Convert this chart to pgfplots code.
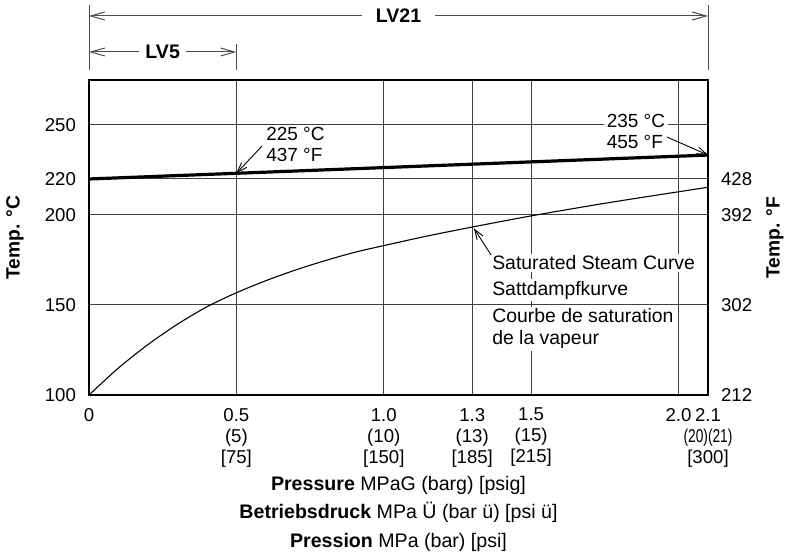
\documentclass[border=0pt]{standalone}
\usepackage{pgfplots}
\pgfplotsset{compat=1.18}
\usepackage{graphicx}
\usepackage{fontspec}
\setmainfont{Liberation Sans}
\usetikzlibrary{arrows.meta}

\begin{document}
\begin{tikzpicture}[font=\fontsize{9.3}{10.5}\selectfont]
\begin{axis}[
  scale only axis, width=309.5pt, height=157.5pt,
  xmin=0, xmax=2.1, ymin=100, ymax=275,
  xtick={0,0.5,1,1.3,1.5,2,2.1},
  xticklabels={0,{0.5\\(5)\\{[75]}},{1.0\\(10)\\{[150]}},{1.3\\(13)\\{[185]}},{1.5\\(15)\\{[215]}},{2.0},{2.1\\\scalebox{0.74}[1]{(20)(21)}\\{[300]}}},
  xticklabel style={align=center, anchor=north, yshift=-3pt, font=\fontsize{9.3}{10.5}\selectfont},
  ytick={100,150,200,220,250},
  yticklabels={100,150,200,220,250},
  yticklabel style={xshift=-3pt},
  major tick length=0pt,
  grid=major,
  major grid style={black!75, line width=0.5pt},
  axis line style={black, line width=0.7pt},
  /pgf/number format/assume math mode=true,
  clip=false,
]
\addplot[black, line width=1.6pt] coordinates {(0,220) (2.1,233.3)};
\addplot[black, line width=0.55pt, smooth, tension=0.5] coordinates {
  (0,100) (0.1,115) (0.2,128) (0.3,139.3) (0.4,149) (0.5,156.8) (0.6,163.5)
  (0.7,169.4) (0.8,174.6) (0.9,179.2) (1.0,183) (1.15,188.4) (1.3,193.3)
  (1.5,199.5) (1.75,206.5) (2.0,212.9) (2.1,215.4)};

\coordinate (BL) at (rel axis cs:0,0);
\coordinate (TL) at (rel axis cs:0,1);
\coordinate (TR) at (rel axis cs:1,1);
\coordinate (T5) at (axis cs:0.5,275);

% annotations
\node[anchor=west, align=left, inner sep=0pt, font=\fontsize{9.5}{10.5}\selectfont] at (axis cs:0.600,239) {225 °C\\437 °F};
\draw[black, line width=0.45pt, -{Straight Barb[length=5pt,width=3.5pt]}] (axis cs:0.587,238.3) -- (axis cs:0.5,223.2);

\node[anchor=west, align=left, fill=white, inner sep=1.5pt, font=\fontsize{9.5}{10.5}\selectfont] at (axis cs:1.745,246.2) {235 °C\\455 °F};
\draw[black, line width=0.45pt, -{Straight Barb[length=5pt,width=3.5pt]}] (axis cs:1.961,243.3) -- (axis cs:2.1,233.3);

\begin{scope}[every node/.style={anchor=west, fill=white, inner sep=1pt, font=\fontsize{9.7}{11}\selectfont}]
\node at (axis cs:1.360,173.3) {Saturated Steam Curve};
\node at (axis cs:1.360,158.3) {Sattdampfkurve};
\node[align=left] at (axis cs:1.360,136.7) {Courbe de saturation\\de la vapeur};
\end{scope}
\draw[black, line width=0.45pt, -{Straight Barb[length=5pt,width=3.5pt]}] (axis cs:1.364,177.8) -- (axis cs:1.306,192.6);

% axis titles
\node[rotate=90, font=\fontsize{9.6}{10.5}\selectfont\bfseries] at ([xshift=-37pt]rel axis cs:0,0.5) {Temp. °C};
\node[rotate=90, font=\fontsize{9.6}{10.5}\selectfont\bfseries] at ([xshift=33.5pt]rel axis cs:1,0.5) {Temp. °F};
\node[anchor=north, align=center, font=\fontsize{9.8}{14.3}\selectfont] at ([yshift=-37pt]rel axis cs:0.5,0)
  {\textbf{Pressure} MPaG (barg) [psig]\\\textbf{Betriebsdruck} MPa Ü (bar ü) [psi ü]\\\textbf{Pression} MPa (bar) [psi]};
\end{axis}

\begin{axis}[
  scale only axis, width=309.5pt, height=157.5pt,
  xmin=0, xmax=2.1, ymin=100, ymax=275,
  axis y line*=right, axis x line=none,
  axis line style={draw=none},
  ytick={100,150,200,220},
  yticklabels={212,302,392,428},
  yticklabel style={xshift=3pt},
  major tick length=0pt,
]
\end{axis}

% dimension lines
\begin{scope}[black!70, line width=0.5pt, arr/.style={{Straight Barb[length=7pt,width=4pt]}-{Straight Barb[length=7pt,width=4pt]}}]
\draw ([yshift=5pt]TL) -- ([yshift=37.5pt]TL);
\draw ([yshift=5pt]TR) -- ([yshift=37.5pt]TR);
\draw ([yshift=5pt]T5) -- ([yshift=18pt]T5);
\draw[arr] ([yshift=32pt]TL) -- node[fill=white, text=black, font=\fontsize{9.8}{10.5}\selectfont\bfseries, inner xsep=7pt, inner ysep=1pt] {LV21} ([yshift=32pt]TR);
\draw[arr] ([yshift=14pt]TL) -- node[fill=white, text=black, font=\fontsize{9.8}{10.5}\selectfont\bfseries, inner xsep=3pt, inner ysep=1pt] {LV5} ([yshift=14pt]T5);
\end{scope}

\pgfresetboundingbox
\path[use as bounding box] ([xshift=-44.5pt,yshift=-79.5pt]BL) rectangle ([xshift=39pt,yshift=40pt]TR);
\end{tikzpicture}
\end{document}
